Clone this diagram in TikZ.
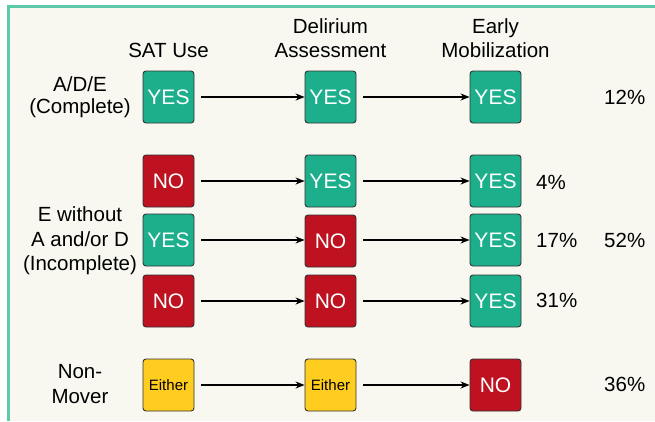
\documentclass[tikz,border=0pt]{standalone}
\usepackage{fontspec}
\setmainfont{Liberation Sans}
\usetikzlibrary{arrows.meta}
\definecolor{tealbox}{HTML}{1DAF8C}
\definecolor{redbox}{HTML}{BE1220}
\definecolor{yellowbox}{HTML}{FFCD1F}
\definecolor{cream}{HTML}{F8F8F1}
\definecolor{tealline}{HTML}{5CC9A9}
\begin{document}
\begin{tikzpicture}[x=1pt,y=-1pt,
  box/.style={draw=black!80, line width=0.9pt, rounded corners=3pt, minimum width=51pt, minimum height=52pt, inner sep=0pt, font=\fontsize{21}{22}\selectfont, text=white},
  yes/.style={box, fill=tealbox},
  no/.style={box, fill=redbox},
  either/.style={box, fill=yellowbox, text=black, font=\fontsize{15}{16}\selectfont},
  arr/.style={-{Stealth[length=9pt,width=7pt]}, line width=1.1pt, shorten <=7pt},
  lbl/.style={font=\fontsize{20.5}{23.5}\selectfont, align=center, inner sep=0pt},
  pct/.style={font=\fontsize{20.5}{22}\selectfont, anchor=west, inner sep=0pt}]
\useasboundingbox (0,0) rectangle (655,421);
\fill[white] (0,0) rectangle (655,421);
\fill[cream] (8,6) rectangle (655,421);
\draw[tealline, line width=3pt] (8,421) -- (8,6) -- (655,6);
% headers
\node[lbl] (hs) at (168.5,50) {SAT Use};
\node[lbl] (hd) at (330.5,38) {Delirium\\Assessment};
\node[lbl] (he) at (495.5,38) {Early\\Mobilization};
% row labels
\node[lbl, font=\fontsize{20.5}{22.5}\selectfont] (r1) at (80,97) {A/D/E\\(Complete)};
\node[lbl, font=\fontsize{20.5}{24.5}\selectfont] (r2) at (80,241) {E without\\A and/or D\\(Incomplete)};
\node[lbl, font=\fontsize{20.5}{24.5}\selectfont] (r3) at (80,384) {Non-\\Mover};
% row 1
\node[yes] (a1) at (168.5,97) {YES};
\node[yes] (b1) at (330.5,97) {YES};
\node[yes] (c1) at (495.5,97) {YES};
% row 2
\node[no] (a2) at (168.5,181) {NO};
\node[yes] (b2) at (330.5,181) {YES};
\node[yes] (c2) at (495.5,181) {YES};
% row 3
\node[yes] (a3) at (168.5,240) {YES};
\node[no] (b3) at (330.5,241) {NO};
\node[yes] (c3) at (495.5,240) {YES};
% row 4
\node[no] (a4) at (168.5,301) {NO};
\node[no] (b4) at (330.5,301) {NO};
\node[yes] (c4) at (495.5,301) {YES};
% row 5
\node[either] (a5) at (168.5,385) {Either};
\node[either] (b5) at (330.5,385) {Either};
\node[no] (c5) at (495.5,385) {NO};
% arrows
\foreach \r in {1,2,4,5}{
  \draw[arr] (a\r) -- (b\r);
  \draw[arr] (b\r) -- (c\r);
}
\draw[arr] (a3.east) -- (a3.east -| b3.west);
\draw[arr] (b3.east |- a3.east) -- (c3.west);
% percentages
\node[pct] (p1) at (604,97) {12\%};
\node[pct] (p2) at (536,182) {4\%};
\node[pct] (p3) at (536,240) {17\%};
\node[pct] (p4) at (536,300) {31\%};
\node[pct] (p5) at (604,240) {52\%};
\node[pct] (p6) at (604,384) {36\%};
\end{tikzpicture}
\end{document}
